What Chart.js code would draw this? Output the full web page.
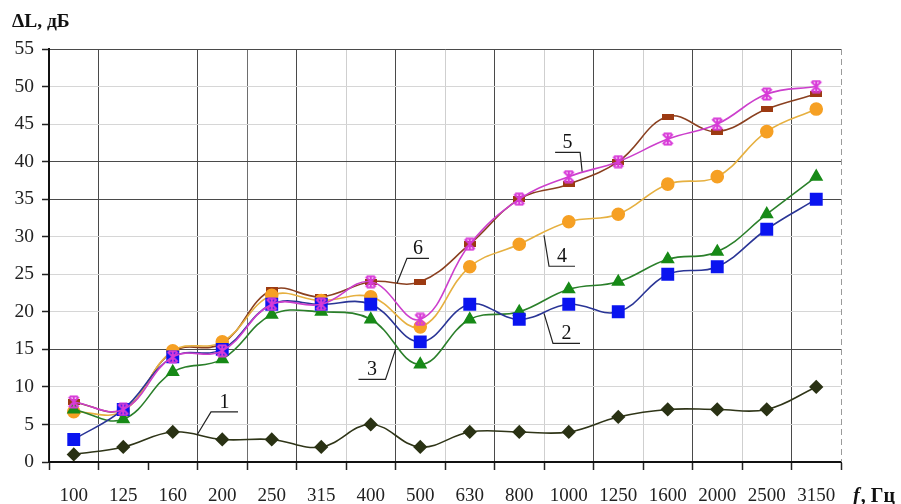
<!DOCTYPE html>
<html>
<head>
<meta charset="utf-8">
<script src="https://cdn.jsdelivr.net/npm/chart.js@4.4.1/dist/chart.umd.min.js"></script>
<style>
html,body{margin:0;padding:0;background:#fff;}
canvas{display:block;}
</style>
</head>
<body>
<canvas id="c" width="901" height="504"></canvas>
<script>
// ---- data ----
const categories = ['100','125','160','200','250','315','400','500','630','800','1000','1250','1600','2000','2500','3150'];
const series1 = [1, 2, 4, 3, 3, 2, 5, 2, 4, 4, 4, 6, 7, 7, 7, 10];
const series2 = [3, 7, 14, 15, 21, 21, 21, 16, 21, 19, 21, 20, 25, 26, 31, 35];
const series3 = [7, 5.7, 12, 13.7, 19.6, 20, 19, 13, 19, 20, 23, 24, 27, 28, 33, 38];
const series4 = [6.7, 6.8, 14.8, 16, 22.2, 21.5, 22, 18, 26, 29, 32, 33, 37, 38, 44, 47];
const series5 = [8, 7, 14, 14.8, 21, 21, 24, 19, 29, 35, 38, 40, 43, 45, 49, 50];
const series6 = [8, 7, 14.7, 15.8, 22.9, 22, 24, 24, 29, 35, 37, 40, 46, 44, 47, 49];
const yTickValues = [0,5,10,15,20,25,30,35,40,45,50,55];
const darkYLines = [15, 35, 40, 55];

// callouts: label, tip position on curve (category index, value)
const calloutLabels = ['1','2','3','4','5','6'];
const calloutTipIndex = [2.49, 9.5, 6.5, 9.5, 10.27, 6.53];
const calloutTipValue = [3.6, 19.8, 15.0, 30.2, 38.7, 23.8];
// layout offsets (px) of the elbow relative to tip and underline length
const calloutElbow = [[14,-23],[9,30],[-10,30],[5,31],[-2,-19],[10,-25]];
const calloutLen = [27, 27, -27, 26, -25, 22];

const SERIF = '"Liberation Serif", "DejaVu Serif", serif';

function makeX(color){
  const c = document.createElement('canvas'); c.width = 14; c.height = 14;
  const g = c.getContext('2d'); g.strokeStyle = color; g.lineWidth = 2;
  g.beginPath(); g.moveTo(2,2); g.lineTo(12,12); g.moveTo(12,2); g.lineTo(2,12);
  g.moveTo(7,1); g.lineTo(7,13); g.moveTo(3,1.5); g.lineTo(11,1.5); g.moveTo(3,12.5); g.lineTo(11,12.5); g.stroke();
  return c;
}
function makeDash(color){
  const c = document.createElement('canvas'); c.width = 12; c.height = 6;
  const g = c.getContext('2d'); g.fillStyle = color; g.fillRect(0,0,12,6);
  return c;
}

const annot = {
  id: 'annot',
  afterDraw(chart){
    const ctx = chart.ctx, a = chart.chartArea;
    const xs = chart.scales.x, ys = chart.scales.y;
    ctx.save();
    // right dashed border
    ctx.strokeStyle = '#9a9a9a'; ctx.lineWidth = 1; ctx.setLineDash([6,4]);
    ctx.beginPath(); ctx.moveTo(a.right + 0.5, a.top); ctx.lineTo(a.right + 0.5, a.bottom); ctx.stroke();
    ctx.setLineDash([]);
    // callouts
    ctx.strokeStyle = '#222'; ctx.lineWidth = 1.2; ctx.fillStyle = '#111';
    ctx.font = '20px ' + SERIF; ctx.textAlign = 'center'; ctx.textBaseline = 'alphabetic';
    for (let i = 0; i < calloutLabels.length; i++){
      const tx = xs.getPixelForValue(calloutTipIndex[i]);
      const ty = ys.getPixelForValue(calloutTipValue[i]);
      const ex = tx + calloutElbow[i][0], ey = ty + calloutElbow[i][1];
      const ux = ex + calloutLen[i];
      ctx.beginPath(); ctx.moveTo(tx, ty); ctx.lineTo(ex, ey); ctx.lineTo(ux, ey); ctx.stroke();
      ctx.fillText(calloutLabels[i], (ex + ux) / 2, ey - 4);
    }
    // axis titles
    ctx.textAlign = 'left';
    ctx.font = 'bold 19.5px ' + SERIF;
    ctx.fillText('\u0394L, \u0434\u0411', 12, 27);
    const by = a.bottom + 40;
    ctx.font = 'italic bold 20px ' + SERIF;
    ctx.fillText('f', a.right + 12, by);
    const fw = ctx.measureText('f').width;
    ctx.font = 'bold 20px ' + SERIF;
    ctx.fillText(', \u0413\u0446', a.right + 12 + fw + 1, by);
    ctx.restore();
  }
};

function ds(label, data, color, pointColor, style, radius, order, extra){
  return Object.assign({
    label, data, borderColor: color, backgroundColor: pointColor,
    pointBackgroundColor: pointColor, pointBorderColor: pointColor,
    pointStyle: style, pointRadius: radius, pointHoverRadius: radius,
    borderWidth: 1.6, tension: 0.4, fill: false, order
  }, extra || {});
}

new Chart(document.getElementById('c'), {
  type: 'line',
  data: {
    labels: categories,
    datasets: [
      ds('1', series1, '#2f3518', '#2a3214', 'rectRot', 6, 5),
      ds('2', series2, '#2a3596', '#0a14f0', 'rect', 8, 1),
      ds('3', series3, '#2a7f2a', '#178a17', 'triangle', 6.5, 2),
      ds('4', series4, '#e6b040', '#f6a024', 'circle', 6, 3),
      ds('5', series5, '#cc3fcc', '#dd3add', makeX('#d83ad8'), 7, 0),
      ds('6', series6, '#8a4020', '#9c3a12', makeDash('#9c3a12'), 6, 4)
    ]
  },
  options: {
    responsive: false,
    animation: false,
    layout: { padding: { top: 49, right: 60, left: 0, bottom: 0 } },
    plugins: { legend: { display: false }, tooltip: { enabled: false } },
    scales: {
      x: {
        type: 'category',
        offset: true,
        afterFit(s){ s.height = 42; },
        grid: {
          offset: true,
          tickLength: 8,
          lineWidth: 1,
          tickColor: '#222',
          tickWidth: 1.5,
          color(ctx){
            const i = ctx.index;
            if (i === undefined) return 'rgba(0,0,0,0)';
            if (i === 2) return 'rgba(0,0,0,0)';
            if (i === 4) return '#6e6e6e';
            if (i % 2 === 1) return '#4a4a4a';
            return '#cfcfcf';
          }
        },
        border: { color: '#111', width: 2 },
        ticks: { font: { family: SERIF, size: 19 }, color: '#222', padding: 15, maxRotation: 0, autoSkip: false }
      },
      y: {
        min: 0, max: 55,
        afterFit(s){ s.width = 49; },
        afterBuildTicks(s){ s.ticks = yTickValues.map(v => ({ value: v })); },
        grid: {
          tickLength: 7,
          tickColor: '#222',
          tickWidth: 1.5,
          lineWidth: 1,
          color(ctx){
            const v = ctx.tick ? ctx.tick.value : null;
            return darkYLines.includes(v) ? '#4a4a4a' : '#d6d6d6';
          }
        },
        border: { color: '#111', width: 2 },
        ticks: { font: { family: SERIF, size: 19.5 }, color: '#222', padding: 8 }
      }
    }
  },
  plugins: [annot]
});
</script>
</body>
</html>
